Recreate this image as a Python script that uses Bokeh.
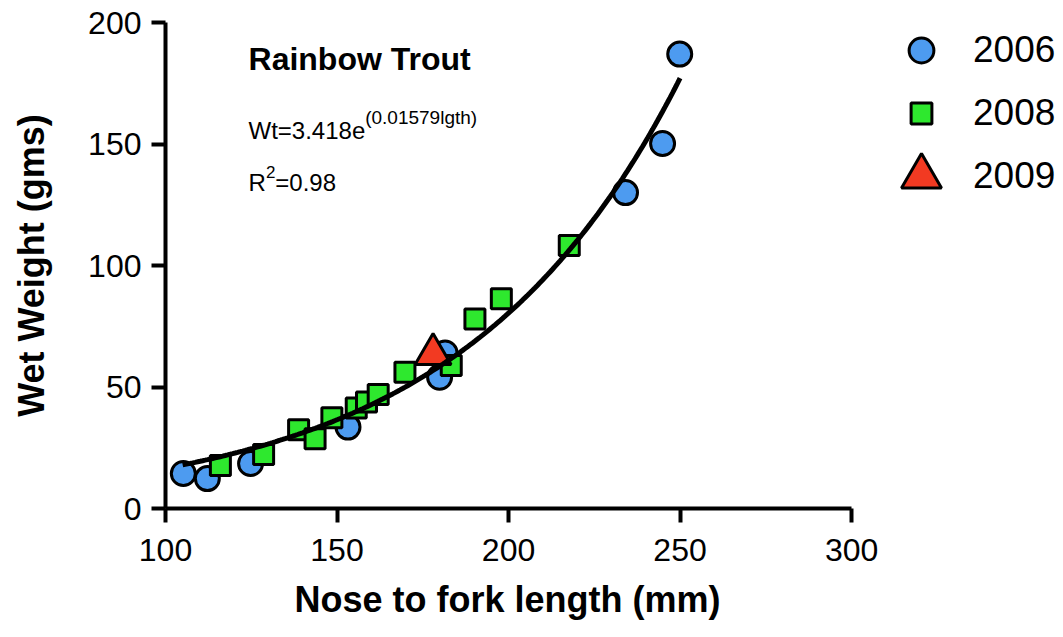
import numpy as np
from bokeh.plotting import figure
from bokeh.models import Range1d, FixedTicker, Legend, LegendItem, Label, Title
from bokeh.embed import file_html
from bokeh.resources import INLINE

# ---- data ----
len_2006 = [105.2, 112.2, 124.8, 153.2, 179.9, 181.5, 234.1, 244.9, 249.9]
wt_2006 = [14.4, 12.3, 18.5, 33.5, 54.0, 64.0, 130.0, 150.2, 187.0]

len_2008 = [116.0, 128.6, 138.8, 143.6, 148.5, 155.6, 158.6, 162.0, 169.8,
            183.3, 190.2, 197.9, 217.7]
wt_2008 = [17.7, 22.2, 32.4, 28.7, 37.3, 41.4, 43.8, 46.9, 56.1,
           58.8, 78.0, 86.3, 108.2]

len_2009 = [178.0]
wt_2009 = [63.5]

# fitted model shown on the chart: Wt = A * exp(B * lgth)
FIT_A = 3.418
FIT_B = 0.01579
FIT_LEN_MIN, FIT_LEN_MAX = 105, 250

x_ticks = [100, 150, 200, 250, 300]
y_ticks = [0, 50, 100, 150, 200]
series_labels = ["2006", "2008", "2009"]

FONT = "Liberation Sans"
BLUE = "#4D9BF0"
GREEN = "#2EE82E"
RED = "#F23A22"

# frame extends to the right so the legend can sit inside it;
# the visible x axis is bounded to 100..300
p = figure(width=1060, height=634,
           x_range=Range1d(100, 360.9), y_range=Range1d(0, 200),
           output_backend="svg", toolbar_location=None,
           min_border_left=165, min_border_right=0,
           min_border_top=22, min_border_bottom=126)
p.outline_line_color = None
p.grid.visible = False
p.background_fill_color = "white"
p.border_fill_color = "white"

fit_x = np.linspace(FIT_LEN_MIN, FIT_LEN_MAX, 200)
fit_y = FIT_A * np.exp(FIT_B * fit_x)

r06 = p.scatter(len_2006, wt_2006, marker="circle", size=24,
                fill_color=BLUE, line_color="black", line_width=3)
r08 = p.scatter(len_2008, wt_2008, marker="square", size=20,
                fill_color=GREEN, line_color="black", line_width=3)
r09 = p.scatter(len_2009, wt_2009, marker="triangle", size=36,
                fill_color=RED, line_color="black", line_width=3)
p.line(fit_x, fit_y, line_color="black", line_width=5)

# axes
for ax, ticks in ((p.xaxis[0], x_ticks), (p.yaxis[0], y_ticks)):
    ax.ticker = FixedTicker(ticks=ticks)
    ax.minor_tick_line_color = None
    ax.axis_line_width = 4
    ax.axis_line_color = "black"
    ax.major_tick_line_width = 4
    ax.major_tick_line_color = "black"
    ax.major_tick_out = 14
    ax.major_tick_in = 0
    ax.major_label_text_font = FONT
    ax.major_label_text_font_size = "32px"
    ax.major_label_text_color = "black"
    ax.axis_label_text_font = FONT
    ax.axis_label_text_font_style = "bold"
    ax.axis_label_text_font_size = "36px"
    ax.axis_label_text_color = "black"

p.xaxis[0].bounds = (x_ticks[0], x_ticks[-1])
p.xaxis[0].major_label_standoff = 16
p.yaxis[0].axis_label = "Wet Weight (gms)"
p.yaxis[0].major_label_standoff = 10
p.yaxis[0].axis_label_standoff = 33

# x-axis title centred under the 100..300 axis (frame is wider for legend)
p.add_layout(Title(text="Nose to fork length (mm)", align="left", offset=129,
                   text_font=FONT, text_font_size="36px",
                   text_font_style="bold", text_color="black",
                   standoff=27), "below")

# legends (one per series so each marker keeps its own size)
def make_legend(label, rend, glyph, standoff, loc):
    lg = Legend(items=[LegendItem(label=label, renderers=[rend])],
                location=loc, glyph_width=glyph, glyph_height=glyph,
                label_standoff=standoff, padding=0, spacing=0, margin=0,
                border_line_alpha=0, background_fill_alpha=0,
                label_text_font=FONT, label_text_font_size="37px",
                label_text_color="black")
    p.add_layout(lg)

make_legend(series_labels[0], r06, 62, 21, (725, 427))
make_legend(series_labels[1], r08, 52, 26, (730, 369))
make_legend(series_labels[2], r09, 100, 2, (706, 282))

# annotation texts
def add_text(x, y, text, size, bold=False):
    p.add_layout(Label(x=x, y=y, text=text, text_font=FONT,
                       text_font_size=size,
                       text_font_style="bold" if bold else "normal",
                       text_baseline="alphabetic", text_align="left",
                       text_color="black"))

add_text(124.2, 184.8, "Rainbow Trout", "32px", bold=True)
add_text(124.2, 155.4, "Wt=3.418e", "24px")
add_text(158.2, 161.1, "(0.01579lgth)", "19px")
add_text(124.2, 134.0, "R", "24px")
add_text(129.3, 138.5, "2", "17px")
add_text(132.0, 134.0, "=0.98", "24px")

open("out.html", "w").write(file_html(p, INLINE))
